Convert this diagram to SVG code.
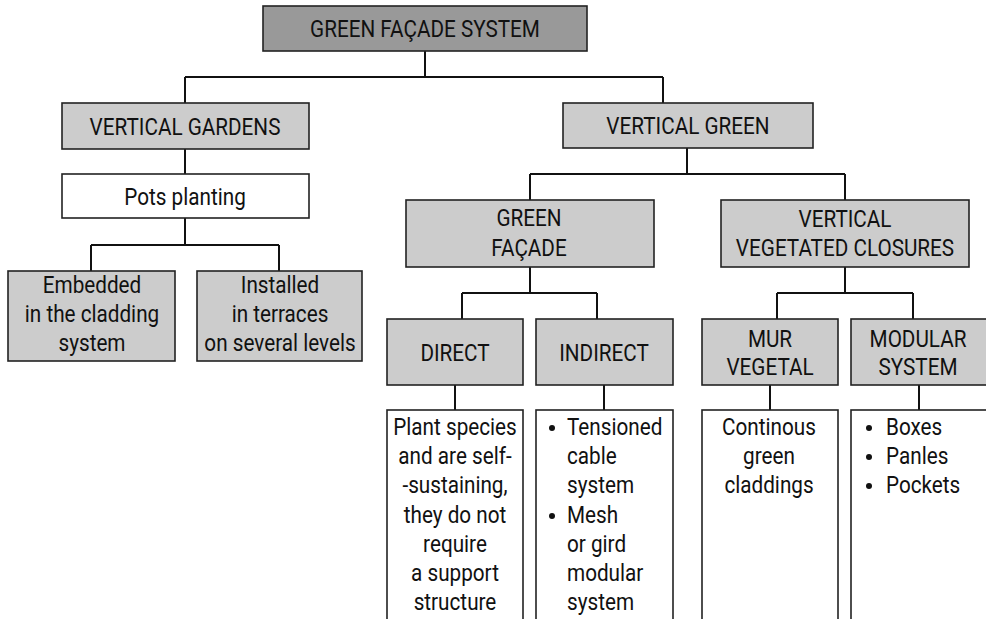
<svg xmlns="http://www.w3.org/2000/svg" width="986" height="619" viewBox="0 0 986 619">
<style>
.box{fill:#cccccc;stroke:#222;stroke-width:1.6}
.dark{fill:#999999;stroke:#222;stroke-width:1.6}
.white{fill:#ffffff;stroke:#222;stroke-width:1.6}
.t{font-family:Roboto,"Noto Sans",sans-serif;font-size:23px;fill:#111;text-anchor:middle}
.l{font-family:Roboto,"Noto Sans",sans-serif;font-size:23px;fill:#111;text-anchor:start}
.c{fill:none;stroke:#111;stroke-width:2}
.b{fill:#111}
</style>
<rect width="986" height="619" fill="#ffffff"/>
<g id="connectors">
<path class="c" d="M425 51V77M185 77H663M185 77V103M663 77V103"/>
<path class="c" d="M185 149V174"/>
<path class="c" d="M185 218V245M91 245H279M91 245V271M279 245V271"/>
<path class="c" d="M687 148V174M530 174H845M530 174V200M845 174V200"/>
<path class="c" d="M530 267V293M462 293H597M462 293V319M597 293V319"/>
<path class="c" d="M845 267V293M777 293H913M777 293V319M913 293V319"/>
<path class="c" d="M455 385V410M604 385V410M770 385V410M919 385V410"/>
</g>
<g id="n-root">
<rect class="dark" x="263" y="6" width="324" height="45"/>
<text class="t" transform="translate(425 0) scale(0.9 1)" y="37">GREEN FAÇADE SYSTEM</text>
</g>
<g id="n-vgardens">
<rect class="box" x="62" y="103" width="247" height="46"/>
<text class="t" transform="translate(185 0) scale(0.9 1)" y="135">VERTICAL GARDENS</text>
</g>
<g id="n-pots">
<rect class="white" x="62" y="174" width="247" height="44"/>
<text class="t" transform="translate(185 0) scale(0.9 1)" y="205">Pots planting</text>
</g>
<g id="n-embedded">
<rect class="box" x="8" y="271" width="167" height="90"/>
<text class="t" transform="translate(92 0) scale(0.9 1)"><tspan x="0" y="293">Embedded</tspan><tspan x="0" y="322">in the cladding</tspan><tspan x="0" y="351">system</tspan></text>
</g>
<g id="n-installed">
<rect class="box" x="197" y="271" width="165" height="90"/>
<text class="t" transform="translate(280 0) scale(0.9 1)"><tspan x="0" y="293">Installed</tspan><tspan x="0" y="322">in terraces</tspan><tspan x="0" y="351">on several levels</tspan></text>
</g>
<g id="n-vgreen">
<rect class="box" x="563" y="103" width="250" height="45"/>
<text class="t" transform="translate(688 0) scale(0.9 1)" y="134">VERTICAL GREEN</text>
</g>
<g id="n-gfacade">
<rect class="box" x="406" y="200" width="248" height="67"/>
<text class="t" transform="translate(529 0) scale(0.9 1)"><tspan x="0" y="226">GREEN</tspan><tspan x="0" y="256">FAÇADE</tspan></text>
</g>
<g id="n-vvc">
<rect class="box" x="721" y="200" width="248" height="67"/>
<text class="t" transform="translate(845 0) scale(0.9 1)"><tspan x="0" y="227">VERTICAL</tspan><tspan x="0" y="256">VEGETATED CLOSURES</tspan></text>
</g>
<g id="n-direct">
<rect class="box" x="387" y="319" width="136" height="66"/>
<text class="t" transform="translate(455 0) scale(0.9 1)" y="361">DIRECT</text>
</g>
<g id="n-indirect">
<rect class="box" x="536" y="319" width="137" height="66"/>
<text class="t" transform="translate(604 0) scale(0.9 1)" y="361">INDIRECT</text>
</g>
<g id="n-mur">
<rect class="box" x="702" y="319" width="136" height="66"/>
<text class="t" transform="translate(770 0) scale(0.9 1)"><tspan x="0" y="347">MUR</tspan><tspan x="0" y="375">VEGETAL</tspan></text>
</g>
<g id="n-modular">
<rect class="box" x="851" y="319" width="145" height="66"/>
<text class="t" transform="translate(918 0) scale(0.9 1)"><tspan x="0" y="347">MODULAR</tspan><tspan x="0" y="375">SYSTEM</tspan></text>
</g>
<g id="n-plant">
<rect class="white" x="387" y="410" width="136" height="230"/>
<text class="t" transform="translate(455 0) scale(0.9 1)"><tspan x="0" y="435">Plant species</tspan><tspan x="0" y="464">and are self-</tspan><tspan x="0" y="493">-sustaining,</tspan><tspan x="0" y="523">they do not</tspan><tspan x="0" y="552">require</tspan><tspan x="0" y="581">a support</tspan><tspan x="0" y="610">structure</tspan></text>
</g>
<g id="n-tension">
<rect class="white" x="536" y="410" width="137" height="230"/>
<circle class="b" cx="552" cy="428" r="3"/>
<circle class="b" cx="552" cy="516" r="3"/>
<text class="l" transform="translate(567 0) scale(0.9 1)"><tspan x="0" y="435">Tensioned</tspan><tspan x="0" y="464">cable</tspan><tspan x="0" y="493">system</tspan><tspan x="0" y="523">Mesh</tspan><tspan x="0" y="552">or gird</tspan><tspan x="0" y="581">modular</tspan><tspan x="0" y="610">system</tspan></text>
</g>
<g id="n-continous">
<rect class="white" x="702" y="410" width="136" height="230"/>
<text class="t" transform="translate(769 0) scale(0.9 1)"><tspan x="0" y="435">Continous</tspan><tspan x="0" y="464">green</tspan><tspan x="0" y="493">claddings</tspan></text>
</g>
<g id="n-boxes">
<rect class="white" x="851" y="410" width="145" height="230"/>
<circle class="b" cx="869" cy="428" r="3"/>
<circle class="b" cx="869" cy="457" r="3"/>
<circle class="b" cx="869" cy="486" r="3"/>
<text class="l" transform="translate(886 0) scale(0.9 1)"><tspan x="0" y="435">Boxes</tspan><tspan x="0" y="464">Panles</tspan><tspan x="0" y="493">Pockets</tspan></text>
</g>
</svg>
